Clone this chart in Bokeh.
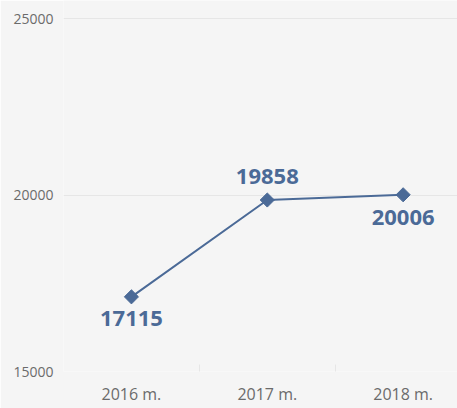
import math
from bokeh.plotting import figure
from bokeh.models import Range1d, FixedTicker, ColumnDataSource
from bokeh.core.properties import value
from bokeh.embed import file_html
from bokeh.resources import INLINE

categories = ["2016 m.", "2017 m.", "2018 m."]
values = [17115, 19858, 20006]
y_ticks = [15000, 20000, 25000]

# style: label offsets in screen pixels (positive = down)
label_offsets = [22, -24, 23]

xs = [i + 0.5 for i in range(len(categories))]
src = ColumnDataSource(dict(x=xs, y=values, lab=[str(v) for v in values], off=label_offsets))

FONT = "Open Sans"

p = figure(width=457, height=408, output_backend="svg", toolbar_location=None,
           x_range=Range1d(0, 2.9), y_range=Range1d(15000, 25510))
p.background_fill_color = "#f5f5f5"
p.border_fill_color = "#f5f5f5"
p.outline_line_color = None
p.min_border_left = 63
p.min_border_right = 0
p.min_border_top = 0
p.min_border_bottom = 37

p.xgrid.grid_line_color = None
p.ygrid.grid_line_color = "#e6e6e6"
p.ygrid.grid_line_width = 1

p.yaxis.ticker = FixedTicker(ticks=y_ticks)
p.yaxis.axis_line_color = None
p.yaxis.major_tick_line_color = None
p.yaxis.major_tick_out = 0
p.yaxis.major_tick_in = 0
p.yaxis.minor_tick_line_color = None
p.yaxis.minor_tick_out = 0
p.yaxis.major_label_text_font = FONT
p.yaxis.major_label_text_font_size = "14px"
p.yaxis.major_label_text_color = "#6b6b6b"
p.yaxis.major_label_standoff = 10

p.xaxis.ticker = FixedTicker(ticks=xs, minor_ticks=[1, 2])
p.xaxis.major_label_overrides = {x: c for x, c in zip(xs, categories)}
p.xaxis.axis_line_color = None
p.xaxis.major_tick_line_color = None
p.xaxis.major_tick_out = 0
p.xaxis.major_tick_in = 0
p.xaxis.minor_tick_line_color = "#e6e6e6"
p.xaxis.minor_tick_in = 7
p.xaxis.minor_tick_out = 0
p.xaxis.major_label_text_font = FONT
p.xaxis.major_label_text_font_size = "16px"
p.xaxis.major_label_text_color = "#6b6b6b"
p.xaxis.major_label_standoff = 11

color = "#4b6a97"
p.line("x", "y", source=src, line_color=color, line_width=2)
p.scatter("x", "y", source=src, marker="square", size=10, angle=math.pi / 4,
          fill_color=color, line_color=color)
p.text("x", "y", text="lab", source=src, y_offset="off", text_align="center",
       text_baseline="middle", text_font=value(FONT), text_font_style="bold",
       text_font_size="22px", text_color=color)

open("out.html", "w").write(file_html(p, INLINE))
